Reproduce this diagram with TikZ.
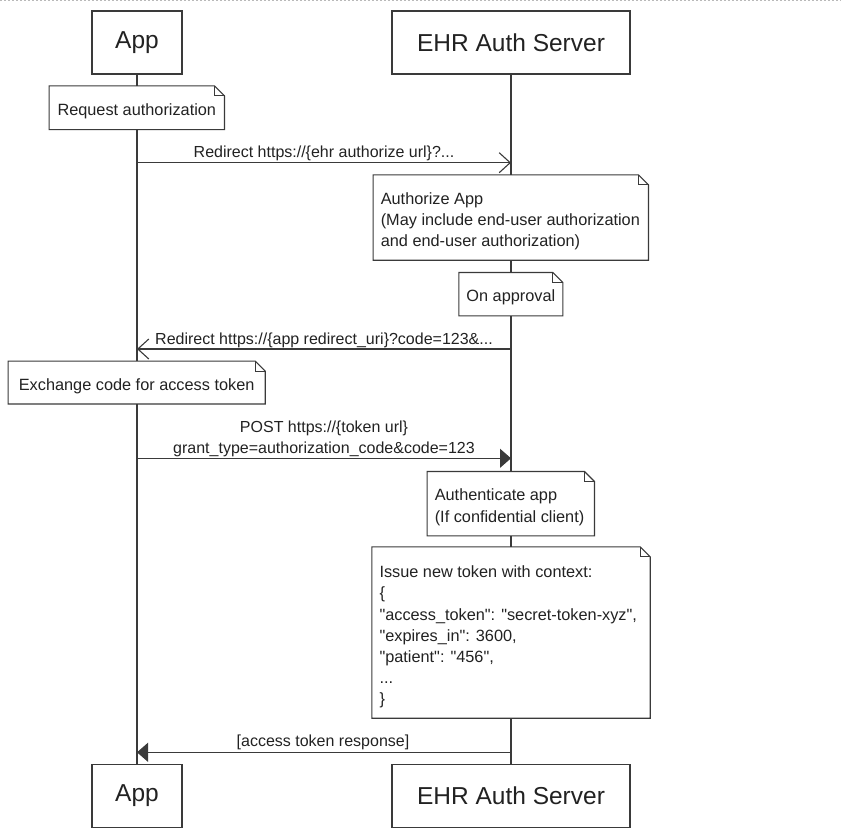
\documentclass[tikz,border=0pt]{standalone}
\usepackage{fontspec}
\setmainfont{Liberation Sans}[Ligatures=TeXOff]
\usetikzlibrary{arrows.meta}
\definecolor{linec}{HTML}{3A3A3A}
\definecolor{txt}{HTML}{222222}
\newcommand{\notefold}[1]{%
  \draw[noteline] (#1.north west) -- ([xshift=-10pt]#1.north east) -- ([yshift=-10pt]#1.north east) -- (#1.south east) -- (#1.south west) -- cycle;
  \draw[noteline] ([xshift=-10pt]#1.north east) |- ([yshift=-10pt]#1.north east);}
% centred note: name, cx, cy, width, height, text shift, text
\newcommand{\umlnoteC}[7]{%
  \node[noteshape, minimum width=#4, minimum height=#5] (#1) at (#2,#3) {};
  \notefold{#1}
  \node[notetext, align=center] (#1t) at ([yshift=-#6]#1.center) {#7};}
% left-aligned note: name, cx, cy, width, height, text shift, text
\newcommand{\umlnoteL}[7]{%
  \node[noteshape, minimum width=#4, minimum height=#5] (#1) at (#2,#3) {};
  \notefold{#1}
  \node[notetext, align=left, anchor=west] (#1t) at ([xshift=7.5pt,yshift=-#6]#1.west) {#7};}
\begin{document}
\begin{tikzpicture}[x=1pt,y=-1pt,
  actor/.style={draw=linec, line width=1.1pt, fill=white, minimum height=63pt, inner sep=0pt, font=\fontsize{24.5}{29}\selectfont, text=txt},
  noteshape/.style={rectangle, fill=white, draw=none, inner sep=0pt},
  notetext/.style={inner sep=0pt, font=\fontsize{16.3}{21.2}\selectfont, text=txt},
  noteline/.style={draw=linec, line width=1.1pt, line join=miter},
  lifeline/.style={draw=linec, line width=1.1pt},
  openmsg/.style={draw=linec, line width=1.1pt, -{Straight Barb[length=11pt,width=20pt]}},
  fillmsg/.style={draw=linec, line width=1.1pt, -{Triangle[length=11pt,width=19pt]}},
  msglabel/.style={font=\fontsize{16}{21}\selectfont, text=txt, inner sep=0pt, align=center}
]
\useasboundingbox (0,0) rectangle (841,836);
% top border
\coordinate (tl) at (0,0.8);
\coordinate (tr) at (841,0.8);
\draw[gray!55, dash pattern=on 2pt off 2pt, line width=0.8pt] (tl) -- (tr);

% actors
\node[actor, minimum width=90pt] (appT) at (137,42.5) {App};
\node[actor, minimum width=238pt] (ehrT) at (511,42.5) {EHR Auth Server};
\node[actor, minimum width=90pt] (appB) at (137,795.7) {App};
\node[actor, minimum width=238pt] (ehrB) at (511,795.7) {EHR Auth Server};

% lifelines
\draw[lifeline] (appT.south) -- (appB.north);
\draw[lifeline] (ehrT.south) -- (ehrB.north);

% notes
\umlnoteC{n1}{136.8}{107.7}{175pt}{43.3pt}{3.5pt}{Request authorization}
\umlnoteL{n2}{510.8}{217.5}{275pt}{85pt}{3.5pt}{Authorize App\\(May include end-user authorization\\and end-user authorization)}
\umlnoteC{n3}{510.85}{294.2}{103.7pt}{43pt}{3.5pt}{On approval}
\umlnoteC{n4}{136.65}{382.5}{256.7pt}{42.5pt}{3.5pt}{Exchange code for access token}
\umlnoteL{n5}{510.8}{503.7}{167pt}{64pt}{3.5pt}{Authenticate app\\(If confidential client)}
\umlnoteL{n6}{511}{632.5}{278pt}{171pt}{4.5pt}{Issue new token with context:\\\{\\"access\_token": "secret-token-xyz",\\"expires\_in": 3600,\\"patient": "456",\\...\\\}}

% messages
\coordinate (a1) at (137,162.7); \coordinate (e1) at (511,162.7);
\coordinate (e2) at (511,349);   \coordinate (a2) at (137,349);
\coordinate (a3) at (137,458.3); \coordinate (e3) at (511,458.3);
\coordinate (e4) at (511,752.3); \coordinate (a4) at (137,752.3);
\draw[openmsg] (a1) -- (e1);
\draw[openmsg] (e2) -- (a2);
\draw[fillmsg] (a3) -- (e3);
\draw[fillmsg] (e4) -- (a4);

\node[msglabel] (l1) at (324,153.5) {Redirect https://\{ehr authorize url\}?...};
\node[msglabel] (l2) at (324,340.5) {Redirect https://\{app redirect\_uri\}?code=123\&...};
\node[msglabel] (l3) at (324,439) {POST https://\{token url\}\\grant\_type=authorization\_code\&code=123};
\node[msglabel] (l4) at (323,742.5) {[access token response]};
\end{tikzpicture}
\end{document}
